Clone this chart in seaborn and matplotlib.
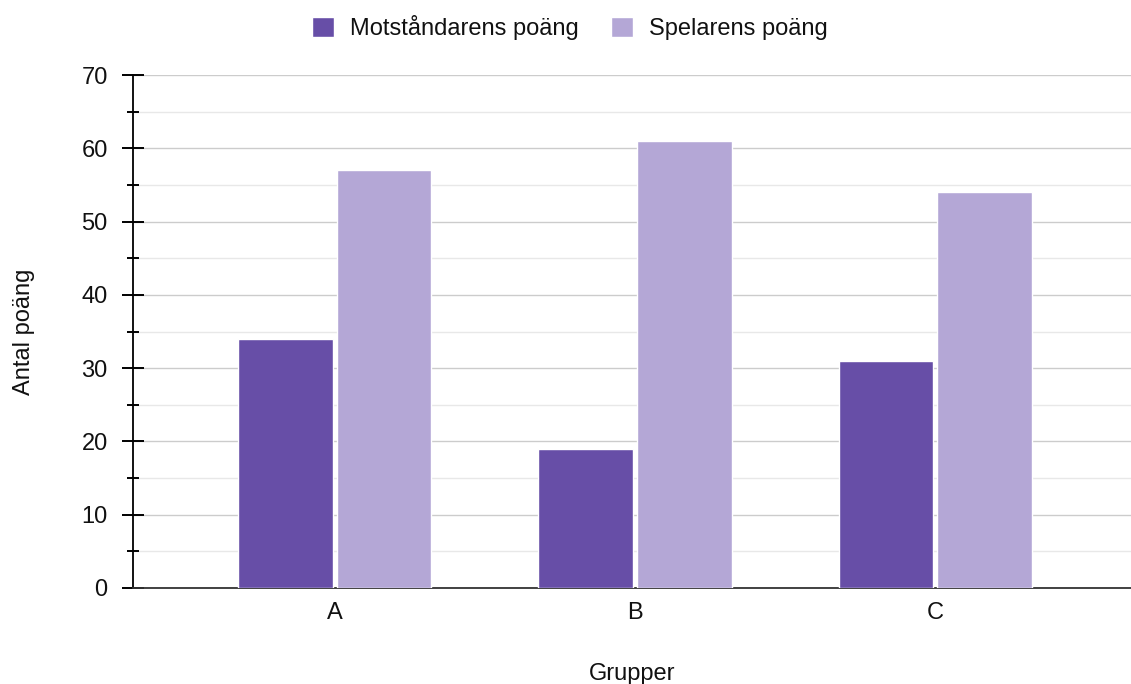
import numpy as np
import pandas as pd
import matplotlib.pyplot as plt
import seaborn as sb
from matplotlib.ticker import MultipleLocator

# values
groups = ['A', 'B', 'C']
opponent = [34, 19, 31]
player = [57, 61, 54]
series_names = ['Motståndarens poäng', 'Spelarens poäng']

df = pd.DataFrame({
    'Grupper': groups * 2,
    'poang': opponent + player,
    'serie': [series_names[0]] * 3 + [series_names[1]] * 3,
})

sb.set_style('white')
plt.rcParams['font.family'] = ['Liberation Sans', 'DejaVu Sans']

fig = plt.figure(figsize=(11.31, 6.84), dpi=100)
ax = fig.add_axes([133 / 1131, 1 - 588 / 684, 1 - 133 / 1131, (588 - 75) / 684])

sb.barplot(data=df, x='Grupper', y='poang', hue='serie',
           palette=['#674ea7', '#b4a7d6'], width=0.655, gap=0.035,
           saturation=1, ax=ax, zorder=3)

ax.set_ylim(0, 70)
ax.set_xlim(-0.673, 2.653)
ax.yaxis.set_major_locator(MultipleLocator(10))
ax.yaxis.set_minor_locator(MultipleLocator(5))
ax.grid(axis='y', which='major', color='#cccccc', lw=1, zorder=0)
ax.grid(axis='y', which='minor', color='#e8e8e8', lw=1, zorder=0)
ax.set_axisbelow(True)

for s in ['top', 'right']:
    ax.spines[s].set_visible(False)
ax.spines['left'].set_color('black')
ax.spines['left'].set_linewidth(1.3)
ax.spines['bottom'].set_color('#333333')
ax.spines['bottom'].set_linewidth(1.3)

ax.tick_params(axis='y', which='major', direction='inout', length=16.5, width=1.4,
               color='black', left=True, labelsize=17, pad=10, labelcolor='#111111')
ax.tick_params(axis='y', which='minor', direction='inout', length=8.5, width=1.4,
               color='black', left=True)
ax.tick_params(axis='x', length=0, labelsize=17, pad=10, labelcolor='#111111')

ax.set_xlabel('Grupper', fontsize=17, labelpad=28, color='#111111')
ax.set_ylabel('Antal poäng', fontsize=17, labelpad=33, color='#111111')

ax.legend(loc='upper center', bbox_to_anchor=(570 / 1131, 1.0),
          bbox_transform=fig.transFigure, ncol=2, frameon=False,
          fontsize=17, handlelength=0.95, handleheight=0.95,
          handletextpad=0.68, columnspacing=1.35, borderaxespad=0.25,
          labelcolor='#111111')

fig.savefig('out.png', dpi=100)
